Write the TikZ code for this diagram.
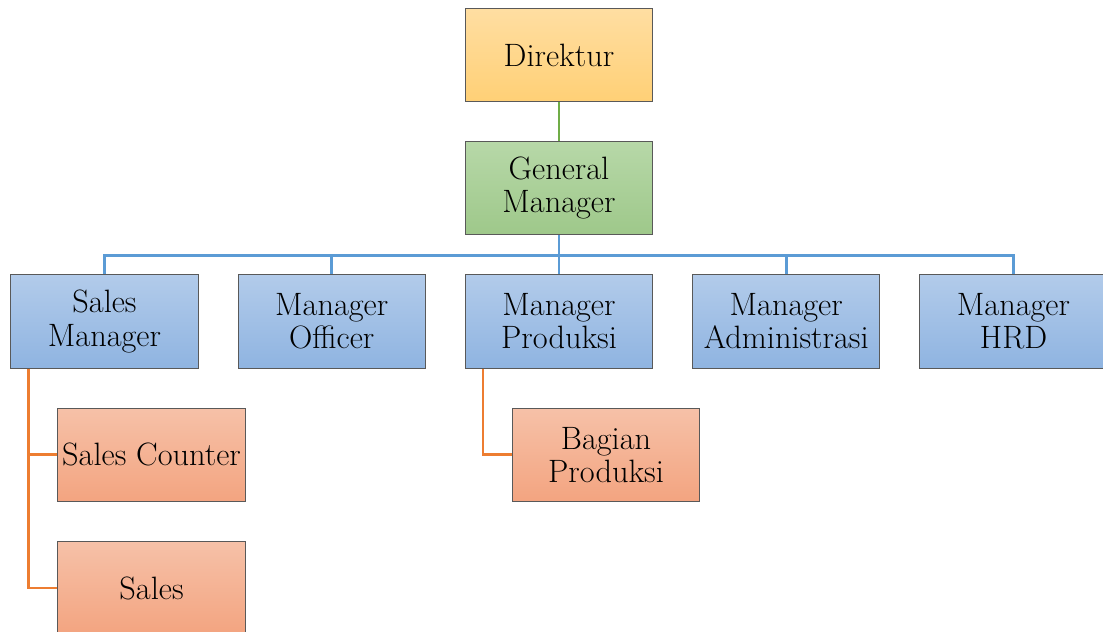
\documentclass[tikz,border=0pt]{standalone}
\usepackage{xcolor}
\usetikzlibrary{positioning}

\definecolor{dirtop}{RGB}{255,222,162}
\definecolor{dirbot}{RGB}{255,208,118}
\definecolor{gmtop}{RGB}{183,216,168}
\definecolor{gmbot}{RGB}{158,200,138}
\definecolor{mgrtop}{RGB}{178,203,234}
\definecolor{mgrbot}{RGB}{143,180,225}
\definecolor{subtop}{RGB}{246,193,168}
\definecolor{subbot}{RGB}{243,164,128}
\definecolor{linegreen}{RGB}{112,173,71}
\definecolor{lineblue}{RGB}{91,155,213}
\definecolor{lineorange}{RGB}{237,125,49}

\begin{document}
\begin{tikzpicture}[
  node distance=0.98cm and 0.98cm,
  box/.style={rectangle, draw=black!65, line width=0.6pt,
              minimum width=4.68cm, minimum height=2.33cm, inner sep=0pt,
              align=center, font=\fontsize{23}{23.6}\selectfont},
  dirbox/.style={box, top color=dirtop, bottom color=dirbot},
  gmbox/.style={box, top color=gmtop, bottom color=gmbot},
  mgrbox/.style={box, top color=mgrtop, bottom color=mgrbot},
  subbox/.style={box, top color=subtop, bottom color=subbot},
  link/.style={line width=1.8pt}
]
\useasboundingbox (0,0) rectangle (27.575,-15.8);

% top levels
\node[dirbox] (dir) at (13.975,-1.375) {Direktur};
\node[gmbox, below=of dir] (gm) {General\\Manager};

% managers
\node[mgrbox, below=of gm] (prod) {Manager\\Produksi};
\node[mgrbox, left=of prod] (officer) {Manager\\Officer};
\node[mgrbox, left=of officer] (sales) {Sales\\Manager};
\node[mgrbox, right=of prod] (admin) {Manager\\Administrasi};
\node[mgrbox, right=of admin] (hrd) {Manager\\HRD};

% staff
\node[subbox, below=of sales.south west, anchor=north west, xshift=1.175cm] (counter) {Sales Counter};
\node[subbox, below=of counter] (salesstaff) {Sales};
\node[subbox, below=of prod.south west, anchor=north west, xshift=1.175cm] (bagian) {Bagian\\Produksi};

\draw[link, linegreen] (dir) -- (gm);
\foreach \m in {sales, officer, prod, admin, hrd}
  \draw[link, lineblue] (gm.south) -- ++(0,-0.5) -| (\m.north);
\draw[link, lineorange] ([xshift=0.45cm]sales.south west) |- (counter.west);
\draw[link, lineorange] ([xshift=0.45cm]sales.south west) |- (salesstaff.west);
\draw[link, lineorange] ([xshift=0.45cm]prod.south west) |- (bagian.west);
\end{tikzpicture}
\end{document}
